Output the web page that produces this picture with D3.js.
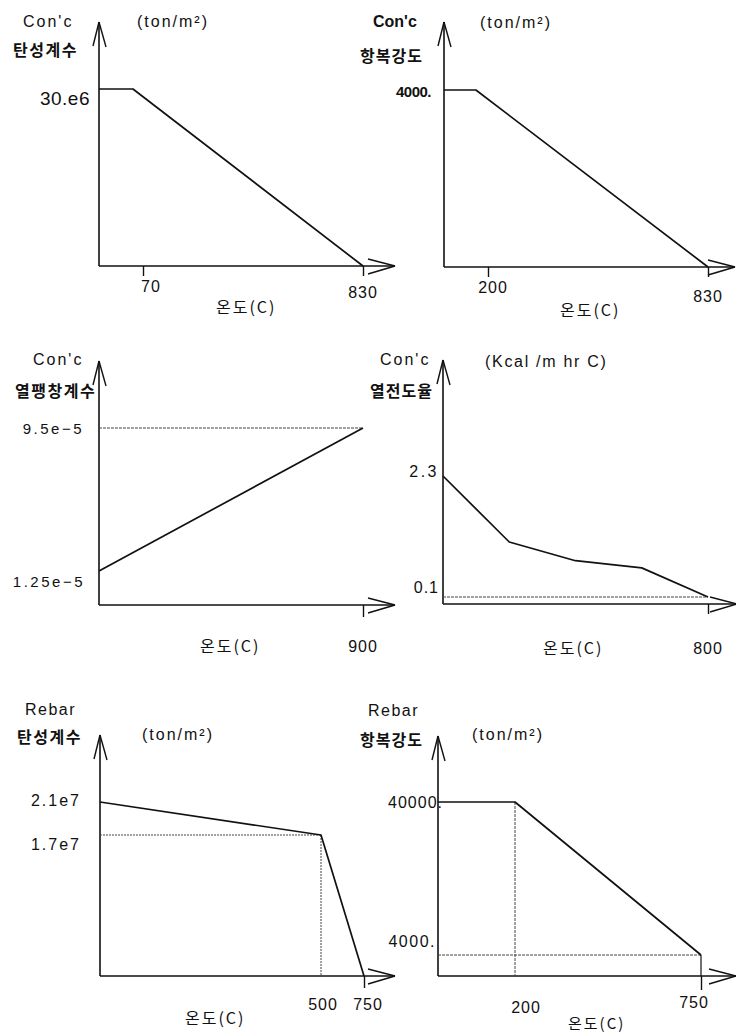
<!DOCTYPE html>
<html>
<head>
<meta charset="utf-8">
<script src="https://cdn.jsdelivr.net/npm/d3@7"></script>
<style>
  html, body { margin: 0; padding: 0; background: #fff; }
  svg { display: block; }
  text { font-family: "Liberation Sans", Arial, "Noto Sans CJK KR", sans-serif; fill: #111; }
  .kr { font-family: "Noto Sans CJK KR", "Liberation Sans", sans-serif; }
</style>
</head>
<body>
<svg id="chart" width="736" height="1035"></svg>
<script>
// ---------------- DATA ----------------
// Panel 1: Con'c 탄성계수 (ton/m²)
const p1Temp = [0, 54, 830];
const p1Value = [30e6, 30e6, 0];
const p1XTicks = [70, 830];
const p1YTicks = [30e6];
const p1YLabels = ["30.e6"];

// Panel 2: Con'c 항복강도 (ton/m²)
const p2Temp = [0, 145, 830];
const p2Value = [4000, 4000, 0];
const p2XTicks = [200, 830];
const p2YTicks = [4000];
const p2YLabels = ["4000."];

// Panel 3: Con'c 열팽창계수
const p3Temp = [0, 900];
const p3Value = [1.25e-5, 9.5e-5];
const p3XTicks = [900];
const p3YTicks = [9.5e-5, 1.25e-5];
const p3YLabels = ["9.5e\u22125", "1.25e\u22125"];

// Panel 4: Con'c 열전도율 (Kcal /m hr C)
const p4Temp = [0, 200, 400, 600, 800];
const p4Value = [2.3, 1.1, 0.76, 0.63, 0.1];
const p4XTicks = [800];
const p4YTicks = [2.3, 0.1];
const p4YLabels = ["2.3", "0.1"];

// Panel 5: Rebar 탄성계수 (ton/m²)
const p5Temp = [0, 500, 750];
const p5Value = [2.1e7, 1.7e7, 0];
const p5XTicks = [500, 750];
const p5YTicks = [2.1e7, 1.7e7];
const p5YLabels = ["2.1e7", "1.7e7"];

// Panel 6: Rebar 항복강도 (ton/m²)
const p6Temp = [0, 200, 750];
const p6Value = [40000, 40000, 4000];
const p6XTicks = [200, 750];
const p6YTicks = [40000, 4000];
const p6YLabels = ["40000.", "4000."];

const xTitle = "온도(C)";

// ---------------- DRAW ----------------
const svg = d3.select("#chart");
const line = d3.line();

function txt(x, y, s, opts = {}) {
  const t = svg.append("text")
    .attr("x", x).attr("y", y)
    .attr("font-size", opts.size || 16)
    .attr("letter-spacing", opts.ls != null ? opts.ls : 1.5)
    .attr("text-anchor", opts.anchor || "start")
    .text(s);
  if (opts.kr) t.attr("class", "kr");
  if (opts.bold) t.attr("font-weight", "bold");
  return t;
}

function seg(x1, y1, x2, y2, w, dash, color) {
  svg.append("line")
    .attr("x1", x1).attr("y1", y1).attr("x2", x2).attr("y2", y2)
    .attr("stroke", color || "#111")
    .attr("stroke-width", w || 1.5)
    .attr("stroke-dasharray", dash || null);
}

function frame(x, y, apexY, apexX) {
  const x0 = x.range()[0], yb = y.range()[0];
  seg(x0, yb, x0, apexY, 1.6);
  seg(x0, apexY, x0 - 6, apexY + 24, 1.4);
  seg(x0, apexY, x0 + 7, apexY + 25, 1.4);
  seg(x0, yb, apexX, yb, 1.6);
  seg(apexX, yb, apexX - 27, yb - 7, 1.4);
  seg(apexX, yb, apexX - 27, yb + 8, 1.4);
}

function curve(x, y, xs, vs) {
  svg.append("path")
    .attr("d", line(xs.map((d, i) => [x(d), y(vs[i])])))
    .attr("fill", "none")
    .attr("stroke", "#111")
    .attr("stroke-width", 1.7)
    .attr("stroke-linejoin", "round");
}

function tickMarks(x, y, ticks, len) {
  const g = svg.append("g").attr("transform", `translate(0,${y.range()[0]})`);
  g.call(d3.axisBottom(x).tickValues(ticks).tickSize(len).tickSizeOuter(0).tickFormat(""));
  g.select(".domain").remove();
  g.selectAll(".tick line").attr("stroke", "#111").attr("stroke-width", 1.4);
}

// ---- Panel 1 ----
{
  const x = d3.scaleLinear().domain([0, p1XTicks[0], p1XTicks[1]]).range([99, 143, 363]);
  const y = d3.scaleLinear().domain([0, p1YTicks[0]]).range([266, 89]);
  frame(x, y, 22, 395);
  curve(x, y, p1Temp, p1Value);
  tickMarks(x, y, p1XTicks, 10);
  txt(23, 27, "Con'c", { ls: 2 });
  txt(137, 27, "(ton/m²)", { ls: 2 });
  txt(13, 56, "탄성계수", { kr: true, bold: true, ls: 1.5 });
  txt(90, y(p1YTicks[0]) + 16, p1YLabels[0], { anchor: "end", size: 19, ls: 0.5 });
  txt(x(p1XTicks[0]) + 8, 292, String(p1XTicks[0]), { anchor: "middle", ls: 1 });
  txt(x(p1XTicks[1]), 298, String(p1XTicks[1]), { anchor: "middle", ls: 1 });
  txt(216, 313, xTitle, { kr: true, ls: 2 });
}

// ---- Panel 2 ----
{
  const x = d3.scaleLinear().domain([0, p2XTicks[0], p2XTicks[1]]).range([444, 488, 708]);
  const y = d3.scaleLinear().domain([0, p2YTicks[0]]).range([267, 90]);
  frame(x, y, 22, 735);
  curve(x, y, p2Temp, p2Value);
  tickMarks(x, y, p2XTicks, 10);
  txt(373, 27, "Con'c", { bold: true, ls: 0 });
  txt(480, 28, "(ton/m²)", { ls: 2 });
  txt(360, 62, "항복강도", { kr: true, bold: true, ls: 1 });
  txt(431, y(p2YTicks[0]) + 7, p2YLabels[0], { anchor: "end", size: 15, bold: true, ls: -0.5 });
  txt(x(p2XTicks[0]) + 5, 293, String(p2XTicks[0]), { anchor: "middle", ls: 1 });
  txt(x(p2XTicks[1]), 302, String(p2XTicks[1]), { anchor: "middle", ls: 1 });
  txt(560, 316, xTitle, { kr: true, ls: 2 });
}

// ---- Panel 3 ----
{
  const x = d3.scaleLinear().domain([0, p3XTicks[0]]).range([99, 363]);
  const y = d3.scaleLinear().domain([0, p3YTicks[1], p3YTicks[0]]).range([605, 571, 428]);
  frame(x, y, 361, 395);
  seg(x(0), y(p3YTicks[0]), x(p3XTicks[0]), y(p3YTicks[0]), 1, "3,1", "#444");
  curve(x, y, p3Temp, p3Value);
  tickMarks(x, y, p3XTicks, 12);
  txt(33, 365, "Con'c", { ls: 2 });
  txt(15, 397, "열팽창계수", { kr: true, bold: true, ls: 1.5 });
  txt(84, y(p3YTicks[0]) + 6, p3YLabels[0], { anchor: "end", size: 15, ls: 2.5 });
  txt(85, y(p3YTicks[1]) + 16, p3YLabels[1], { anchor: "end", size: 15, ls: 2.5 });
  txt(200, 652, xTitle, { kr: true, ls: 2 });
  txt(x(p3XTicks[0]), 652, String(p3XTicks[0]), { anchor: "middle", ls: 1 });
}

// ---- Panel 4 ----
{
  const x = d3.scaleLinear().domain([0, p4XTicks[0]]).range([443, 708]);
  const y = d3.scaleLinear().domain([0, p4YTicks[1], p4YTicks[0]]).range([604, 597, 476]);
  frame(x, y, 360, 737);
  seg(x(0), y(p4YTicks[1]), x(p4XTicks[0]), y(p4YTicks[1]), 1, "3,1", "#444");
  curve(x, y, p4Temp, p4Value);
  tickMarks(x, y, p4XTicks, 10);
  txt(380, 365, "Con'c", { ls: 2 });
  txt(485, 367, "(Kcal /m hr C)", { ls: 1.7 });
  txt(370, 397, "열전도율", { kr: true, bold: true, ls: 1 });
  txt(439, y(p4YTicks[0]) + 1, p4YLabels[0], { anchor: "end", ls: 2.5 });
  txt(439, y(p4YTicks[1]) - 4, p4YLabels[1], { anchor: "end", ls: 1 });
  txt(543, 654, xTitle, { kr: true, ls: 2 });
  txt(x(p4XTicks[0]), 654, String(p4XTicks[0]), { anchor: "middle", ls: 1 });
}

// ---- Panel 5 ----
{
  const x = d3.scaleLinear().domain([0, p5XTicks[0], p5XTicks[1]]).range([100, 321, 364]);
  const y = d3.scaleLinear().domain([0, p5YTicks[1], p5YTicks[0]]).range([976, 835, 802]);
  frame(x, y, 735, 395);
  seg(x(0), y(p5YTicks[1]), x(p5XTicks[0]), y(p5YTicks[1]), 1, "2,1", "#444");
  seg(x(p5XTicks[0]), y(p5YTicks[1]), x(p5XTicks[0]), y(0), 1, "2,1", "#444");
  curve(x, y, p5Temp, p5Value);
  tickMarks(x, y, [p5XTicks[1]], 12);
  txt(25, 715, "Rebar", { ls: 1.5 });
  txt(142, 740, "(ton/m²)", { ls: 2 });
  txt(17, 743, "탄성계수", { kr: true, bold: true, ls: 1.5 });
  txt(81, y(p5YTicks[0]) + 4, p5YLabels[0], { anchor: "end", ls: 2 });
  txt(81, y(p5YTicks[1]) + 15, p5YLabels[1], { anchor: "end", ls: 2 });
  txt(x(p5XTicks[0]) + 2, 1010, String(p5XTicks[0]), { anchor: "middle", ls: 1 });
  txt(x(p5XTicks[1]) + 4, 1010, String(p5XTicks[1]), { anchor: "middle", ls: 1 });
  txt(185, 1024, xTitle, { kr: true, ls: 2 });
}

// ---- Panel 6 ----
{
  const x = d3.scaleLinear().domain([0, p6XTicks[0], p6XTicks[1]]).range([438, 515, 701]);
  const y = d3.scaleLinear().domain([0, p6YTicks[1], p6YTicks[0]]).range([976, 955, 802]);
  frame(x, y, 736, 736);
  seg(x(0), y(p6YTicks[1]), x(p6XTicks[1]), y(p6YTicks[1]), 1, "3,1", "#444");
  seg(x(p6XTicks[0]), y(p6YTicks[0]), x(p6XTicks[0]), y(0), 1, "3,1", "#444");
  seg(x(p6XTicks[1]), y(p6YTicks[1]), x(p6XTicks[1]), y(0), 1.2);
  curve(x, y, p6Temp, p6Value);
  tickMarks(x, y, [p6XTicks[1]], 14);
  txt(368, 716, "Rebar", { ls: 1.5 });
  txt(360, 746, "항복강도", { kr: true, bold: true, ls: 1 });
  txt(472, 740, "(ton/m²)", { ls: 2 });
  txt(443, y(p6YTicks[0]) + 6, p6YLabels[0], { anchor: "end", ls: 1 });
  txt(436, y(p6YTicks[1]) - 8, p6YLabels[1], { anchor: "end", ls: 1.5 });
  txt(x(p6XTicks[0]) + 11, 1013, String(p6XTicks[0]), { anchor: "middle", ls: 1 });
  txt(x(p6XTicks[1]) - 7, 1008, String(p6XTicks[1]), { anchor: "middle", ls: 1 });
  txt(568, 1029, xTitle, { kr: true, size: 15, ls: 2 });
}
</script>
</body>
</html>
